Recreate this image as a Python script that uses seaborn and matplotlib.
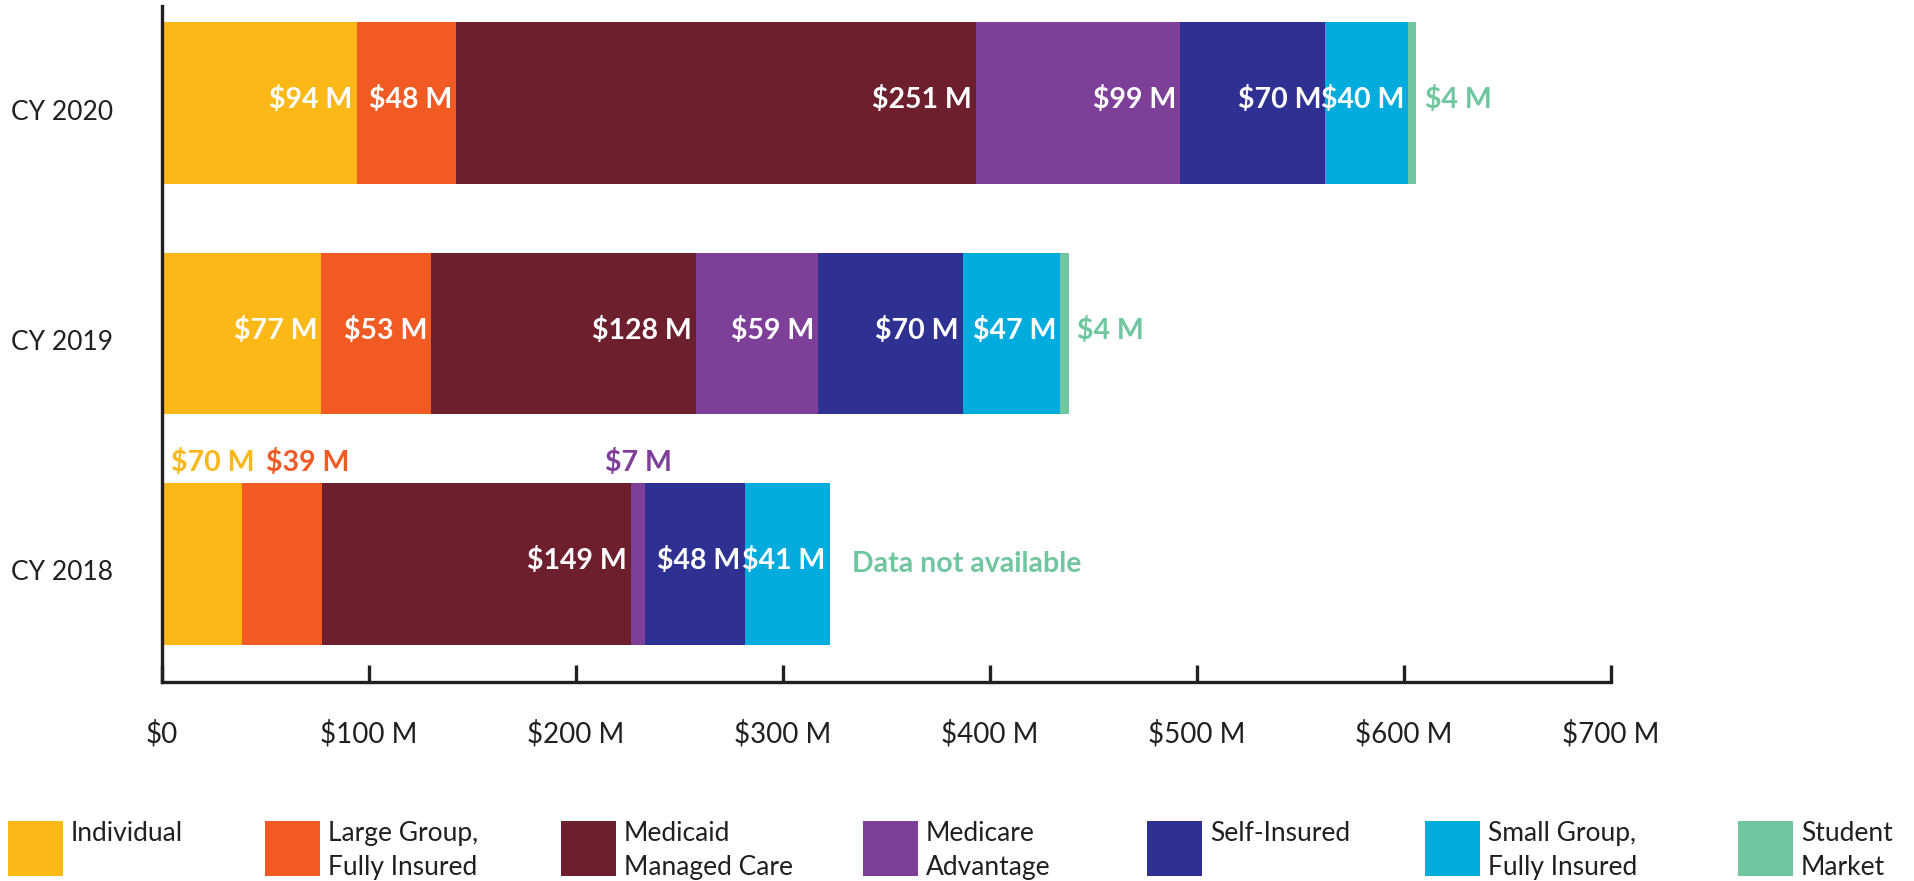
import numpy as np
import pandas as pd
import seaborn as sns
import matplotlib.pyplot as plt
import matplotlib.transforms as mtransforms
from matplotlib.patches import Rectangle

# Data ($ millions)
years = ['CY 2020', 'CY 2019', 'CY 2018']
segments = ['Individual', 'Large Group,\nFully Insured', 'Medicaid\nManaged Care',
            'Medicare\nAdvantage', 'Self-Insured', 'Small Group,\nFully Insured',
            'Student\nMarket']
individual = [94, 77, 38.5]      # 2018 bar is drawn shorter than its $70 M label
large_group = [48, 53, 39]
medicaid = [251, 128, 149]
medicare = [99, 59, 7]
self_insured = [70, 70, 48]
small_group = [40, 47, 41]
student = [4, 4, np.nan]         # 2018: data not available
individual_label = [94, 77, 70]
colors = ['#FCB817', '#F15A22', '#6D1F2E', '#7E3F98', '#2E3192', '#00ABDE', '#70C69E']
xticks = [0, 100, 200, 300, 400, 500, 600, 700]
xtick_labels = ['$0', '$100 M', '$200 M', '$300 M', '$400 M', '$500 M', '$600 M', '$700 M']

sns.set_style('white')
plt.rcParams['font.family'] = ['Lato', 'DejaVu Sans']
dark = '#231F20'

values = np.array([individual, large_group, medicaid, medicare,
                   self_insured, small_group, student], dtype=float)
ends = np.nancumsum(values, axis=0)
starts = ends - np.nan_to_num(values)

fig = plt.figure(figsize=(19.14, 8.81), dpi=100)
ax = fig.add_axes([162 / 1914, 1 - 682 / 881, (1611 - 162) / 1914, (682 - 6) / 881])

# stacked bars: draw cumulative totals from the outermost segment inwards
for i in reversed(range(len(segments))):
    df = pd.DataFrame({'year': years, 'end': ends[i]})
    df = df[~np.isnan(values[i])]
    sns.barplot(data=df, x='end', y='year', order=years, orient='h', color=colors[i],
                saturation=1, width=0.7, errorbar=None, linewidth=0, ax=ax)

ax.set_xlim(0, 700)
ax.set_ylim(2.512, -0.421)
ax.set_xlabel('')
ax.set_ylabel('')
ax.set_xticks(xticks)
ax.set_xticklabels(xtick_labels)
sns.despine(ax=ax, top=True, right=True)
for side in ['left', 'bottom']:
    ax.spines[side].set_linewidth(2.4)
    ax.spines[side].set_color(dark)
ax.tick_params(axis='x', bottom=True, direction='in', length=12, width=2.4, color=dark,
               pad=27, labelsize=20, labelcolor=dark)
ax.tick_params(axis='y', left=False, length=0, pad=35, labelsize=19, labelcolor=dark)
shift = mtransforms.ScaledTranslation(0, -0.065, fig.dpi_scale_trans)
for lab in ax.get_yticklabels():
    lab.set_transform(lab.get_transform() + shift)

# value labels
fs = 20.5
for i in range(len(segments)):
    for j, yr in enumerate(years):
        v = values[i, j]
        if np.isnan(v):
            continue
        txt = f'${individual_label[j] if i == 0 else v:.0f} M'
        if j == 2 and i in (0, 1):
            off = 4.3 if i == 0 else 11.5
            ax.text(starts[i, j] + off, j - 0.44, txt, color=colors[i], fontsize=fs,
                    fontweight='bold', ha='left', va='center')
        elif j == 2 and i == 3:
            ax.text((starts[i, j] + ends[i, j]) / 2, j - 0.44, txt, color=colors[i],
                    fontsize=fs, fontweight='bold', ha='center', va='center')
        elif i == 6:
            ax.annotate(txt, (ends[i, j], j - 0.015), xytext=(6, 0), textcoords='offset points',
                        color=colors[i], fontsize=fs, fontweight='bold', ha='left', va='center')
        else:
            ax.annotate(txt, (ends[i, j], j - 0.015), xytext=(-3, 0), textcoords='offset points',
                        color='white', fontsize=fs, fontweight='bold', ha='right', va='center')

ax.annotate('Data not available', (ends[5, 2], 2), xytext=(16, 0), textcoords='offset points',
            color=colors[6], fontsize=fs, fontweight='bold', ha='left', va='center')

# legend along the bottom
leg_x = [8, 265, 561, 863, 1147, 1425, 1738]
for name, col, x in zip(segments, colors, leg_x):
    fig.add_artist(Rectangle((x / 1914, 1 - 876 / 881), 55 / 1914, 55 / 881,
                             transform=fig.transFigure, facecolor=col, edgecolor='none'))
    fig.text((x + 63) / 1914, 1 - 821 / 881, name, va='top', ha='left', fontsize=19,
             color=dark, linespacing=1.45)

fig.savefig('out.png', dpi=100)
